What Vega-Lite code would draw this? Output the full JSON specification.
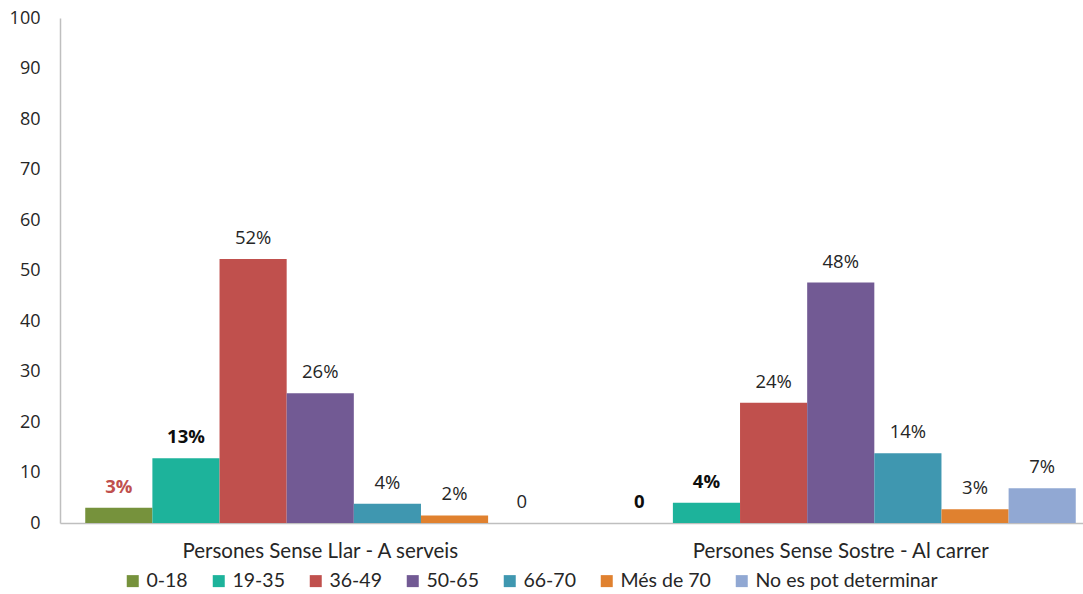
{
  "$schema": "https://vega.github.io/schema/vega-lite/v6.json",
  "width": 1041,
  "height": 505,
  "autosize": {"type": "none"},
  "padding": {"left": 60, "top": 18, "right": 0, "bottom": 71},
  "background": "white",
  "config": {"view": {"stroke": null}},
  "data": {
    "values": [
      {"grup": "Persones Sense Llar - A serveis", "edat": "0-18", "valor": 3.0, "etiqueta": "3%", "estil": "red"},
      {"grup": "Persones Sense Llar - A serveis", "edat": "19-35", "valor": 12.8, "etiqueta": "13%", "estil": "bold"},
      {"grup": "Persones Sense Llar - A serveis", "edat": "36-49", "valor": 52.3, "etiqueta": "52%", "estil": "normal"},
      {"grup": "Persones Sense Llar - A serveis", "edat": "50-65", "valor": 25.7, "etiqueta": "26%", "estil": "normal"},
      {"grup": "Persones Sense Llar - A serveis", "edat": "66-70", "valor": 3.8, "etiqueta": "4%", "estil": "normal"},
      {"grup": "Persones Sense Llar - A serveis", "edat": "Més de 70", "valor": 1.5, "etiqueta": "2%", "estil": "normal"},
      {"grup": "Persones Sense Llar - A serveis", "edat": "No es pot determinar", "valor": 0, "etiqueta": "0", "estil": "normal"},
      {"grup": "Persones Sense Sostre - Al carrer", "edat": "0-18", "valor": 0, "etiqueta": "0", "estil": "bold"},
      {"grup": "Persones Sense Sostre - Al carrer", "edat": "19-35", "valor": 4.0, "etiqueta": "4%", "estil": "bold"},
      {"grup": "Persones Sense Sostre - Al carrer", "edat": "36-49", "valor": 23.8, "etiqueta": "24%", "estil": "normal"},
      {"grup": "Persones Sense Sostre - Al carrer", "edat": "50-65", "valor": 47.6, "etiqueta": "48%", "estil": "normal"},
      {"grup": "Persones Sense Sostre - Al carrer", "edat": "66-70", "valor": 13.8, "etiqueta": "14%", "estil": "normal"},
      {"grup": "Persones Sense Sostre - Al carrer", "edat": "Més de 70", "valor": 2.7, "etiqueta": "3%", "estil": "normal"},
      {"grup": "Persones Sense Sostre - Al carrer", "edat": "No es pot determinar", "valor": 6.9, "etiqueta": "7%", "estil": "normal"}
    ]
  },
  "encoding": {
    "x": {
      "field": "grup", "type": "nominal", "sort": null,
      "scale": {"paddingInner": 0.097, "paddingOuter": 0.0485},
      "axis": {
        "title": null, "labelAngle": 0, "ticks": false, "labelLimit": 0,
        "domainColor": "#BFBFBF", "domainWidth": 1.5,
        "labelFont": "Lato", "labelFontSize": 20.5,
        "labelColor": "#262626", "labelPadding": 18
      }
    },
    "xOffset": {
      "field": "edat", "type": "nominal",
      "sort": ["0-18", "19-35", "36-49", "50-65", "66-70", "Més de 70", "No es pot determinar"],
      "scale": {"paddingInner": 0, "paddingOuter": 0}
    },
    "y": {
      "field": "valor", "type": "quantitative",
      "scale": {"domain": [0, 100], "nice": false},
      "axis": {
        "title": null, "grid": false, "ticks": false,
        "values": [0, 10, 20, 30, 40, 50, 60, 70, 80, 90, 100],
        "domainColor": "#BFBFBF", "domainWidth": 1.5,
        "labelFont": "Open Sans", "labelFontSize": 18,
        "labelColor": "#262626", "labelPadding": 20
      }
    }
  },
  "layer": [
    {
      "mark": {"type": "bar"},
      "encoding": {
        "color": {
          "field": "edat", "type": "nominal",
          "sort": ["0-18", "19-35", "36-49", "50-65", "66-70", "Més de 70", "No es pot determinar"],
          "scale": {
            "domain": ["0-18", "19-35", "36-49", "50-65", "66-70", "Més de 70", "No es pot determinar"],
            "range": ["#76923C", "#1DB39B", "#C0504D", "#725A94", "#3F97B0", "#E0812F", "#91A8D3"]
          },
          "legend": {
            "title": null, "orient": "none", "direction": "horizontal",
            "legendX": 63, "legendY": 553,
            "symbolType": "square", "symbolSize": 144, "symbolStrokeWidth": 0,
            "labelFont": "Lato", "labelFontSize": 19.5, "labelLimit": 0,
            "labelColor": "#262626", "columnPadding": 21, "labelOffset": 4, "padding": 0
          }
        }
      }
    },
    {
      "transform": [{"filter": "datum.estil == 'normal'"}],
      "mark": {"type": "text", "baseline": "middle", "dy": -21, "font": "Open Sans", "fontSize": 18.5, "color": "#262626"},
      "encoding": {"text": {"field": "etiqueta"}}
    },
    {
      "transform": [{"filter": "datum.estil == 'bold'"}],
      "mark": {"type": "text", "baseline": "middle", "dy": -21, "font": "Open Sans", "fontSize": 18.5, "fontWeight": "bold", "color": "#0D0D0D"},
      "encoding": {"text": {"field": "etiqueta"}}
    },
    {
      "transform": [{"filter": "datum.estil == 'red'"}],
      "mark": {"type": "text", "baseline": "middle", "dy": -21, "font": "Open Sans", "fontSize": 18.5, "fontWeight": "bold", "color": "#C0504D"},
      "encoding": {"text": {"field": "etiqueta"}}
    }
  ]
}
